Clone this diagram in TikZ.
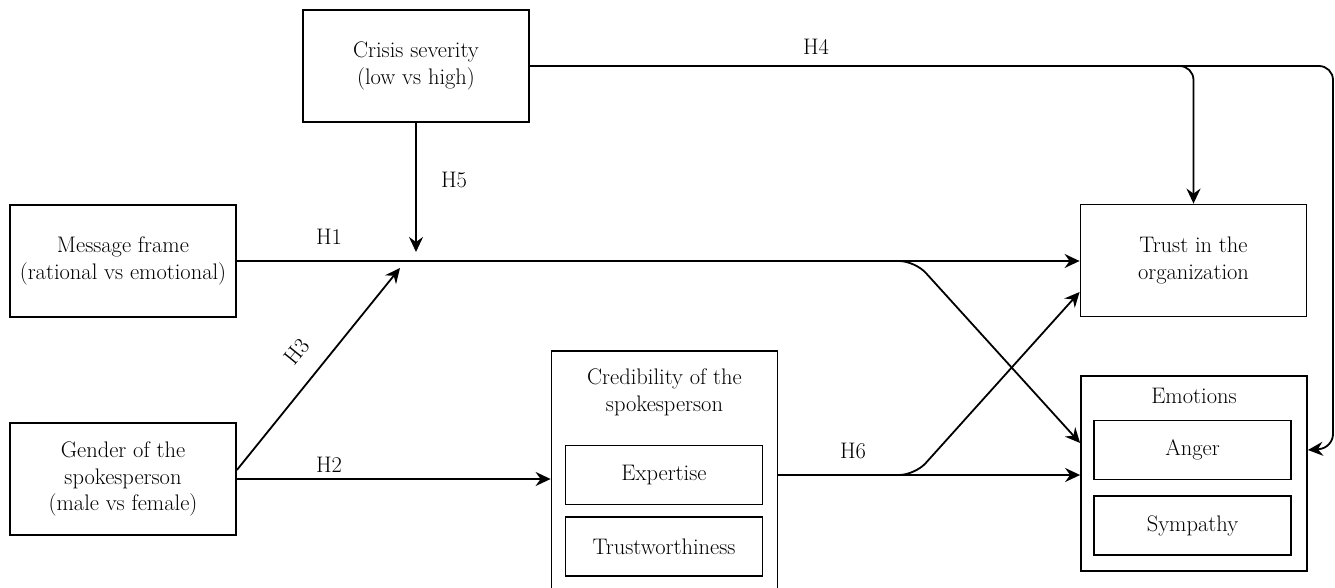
\documentclass[tikz,border=0pt]{standalone}
\usepackage{tikz}
\usetikzlibrary{arrows.meta,positioning}

\tikzset{
  box/.style={draw, line width=1.8pt, minimum width=226pt, minimum height=112pt, align=center, inner sep=0pt},
  inbox/.style={draw, line width=1.8pt, minimum width=197pt, minimum height=59pt, inner sep=0pt},
  conn/.style={line width=1.8pt, -{Stealth[length=15pt,width=14pt,inset=5pt]}},
  hyp/.style={inner sep=0pt}
}

\begin{document}
\begin{tikzpicture}[x=1pt, y=-1pt, font=\fontsize{22.5}{26.5}\selectfont]
\useasboundingbox (0,0) rectangle (1335,588);
\node[box] (Crisis) at (416,66) {Crisis severity\\(low vs high)};
\node[box] (Frame) at (123,261) {Message frame\\(rational vs emotional)};
\node[box] (Gender) at (123,479) {Gender of the\\spokesperson\\(male vs female)};
\node[box] (Trust) at (1193.5,260.5) {Trust in the\\organization};
\node[box, minimum height=195pt] (Emotions) at (1194,473.5) {};
\node[box, minimum height=260pt] (Cred) at (664.5,481) {};
\node[align=center, inner sep=0pt] (CredTitle) at (664.5,392.5) {Credibility of the\\spokesperson};
\node[inner sep=0pt] (EmoTitle) at (1194,396) {Emotions};
\node[inbox] (Expertise) at (664,475) {Expertise};
\node[inbox, below=11pt of Expertise] (TrustW) {Trustworthiness};
\node[inbox] (Anger) at (1192.5,450) {Anger};
\node[inbox, below=15pt of Anger] (Sympathy) {Sympathy};
\coordinate (ModTop) at (416,252);
\coordinate (ModLeft) at (400,268);

\draw[conn] (Frame.east) -- (Frame.east -| Trust.west);
\draw[conn, rounded corners=16pt] (Frame.east) -- (915,261) -- (Emotions.west |- 0,443);
\draw[conn] (Expertise -| Cred.east) -- (Expertise -| Emotions.west);
\draw[conn, rounded corners=16pt] (Expertise -| Cred.east) -- (915,475) -- (Trust.west |- 0,292);
\draw[conn] (Gender.east) -- (Gender.east -| Cred.west);
\draw[conn] ([yshift=9pt]Gender.east) -- (ModLeft);
\draw[conn] (Crisis.south) -- (ModTop);
\draw[conn, rounded corners=14pt] (Crisis.east) -| (Trust.north);
\draw[conn, rounded corners=14pt] (Crisis.east) -- (1333,66) -- (1333,448) -- (Anger -| Emotions.east);

\node[hyp] (H1) at (329,237) {H1};
\node[hyp] (H2) at (329,465) {H2};
\node[hyp, rotate=51] (H3) at (297,352) {H3};
\node[hyp] (H4) at (816,47) {H4};
\node[hyp] (H5) at (454,180) {H5};
\node[hyp] (H6) at (853,451) {H6};
\end{tikzpicture}
\end{document}
